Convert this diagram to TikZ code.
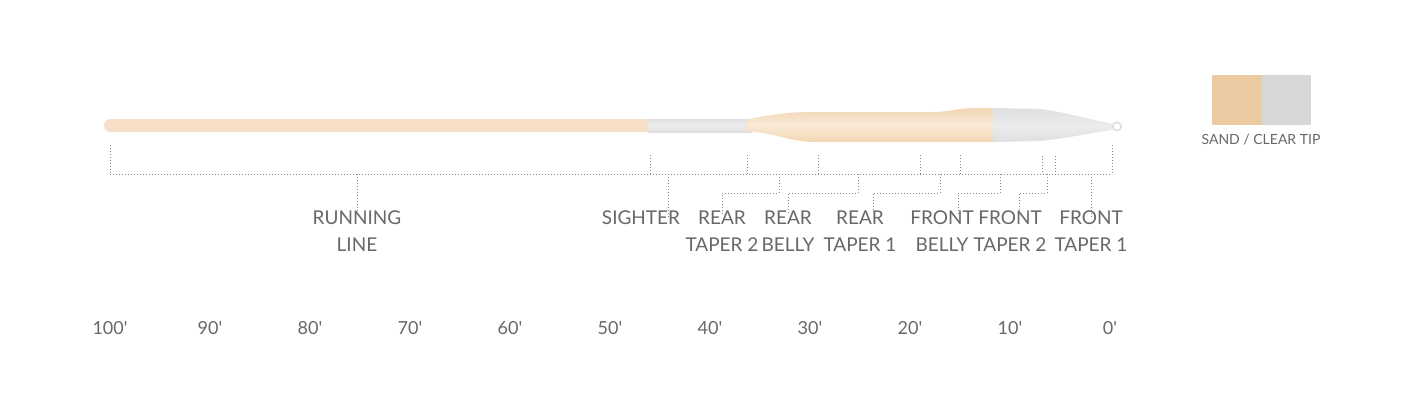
\documentclass[tikz,border=0pt]{standalone}
\usepackage{fontspec}
\setmainfont{Lato}[Ligatures=TeXOff]
\definecolor{sandA}{HTML}{F3D6B4}
\definecolor{sandB}{HTML}{F9E9D6}
\definecolor{sandRun}{HTML}{F6DFC6}
\definecolor{grayA}{HTML}{DFDFE1}
\definecolor{grayB}{HTML}{ECECED}
\definecolor{legSand}{HTML}{EBC9A1}
\definecolor{legGray}{HTML}{D6D7D9}
\definecolor{txt}{HTML}{686868}
\definecolor{dots}{HTML}{8C8C8C}
\begin{document}
\begin{tikzpicture}[x=1pt,y=-1pt,
  dotline/.style={draw=dots,line width=0.9pt,dash pattern=on 0.9pt off 2.1pt},
  lbl/.style={text=txt,font=\fontsize{19}{27}\selectfont,align=center,anchor=north,inner sep=0pt},
  num/.style={text=txt,font=\fontsize{18}{20}\selectfont,inner sep=0pt},
  leglbl/.style={text=txt,font=\fontsize{14}{16}\selectfont,inner sep=0pt}]
\useasboundingbox (0,0) rectangle (1420,412);
\fill[white] (0,0) rectangle (1420,412);

% ---- fly line body ----
\fill[sandRun,rounded corners=6.5pt] (104,119) rectangle (660,132);
\shade[top color=grayA,bottom color=grayA,middle color=grayB] (648,119) rectangle (752,132);
\shade[top color=sandA,bottom color=sandA,middle color=sandB]
  (746,119.5) .. controls (775,114) and (790,112) .. (815,112) -- (930,112)
  .. controls (950,112) and (955,108.5) .. (975,108) -- (994,108) -- (994,142)
  -- (815,142) .. controls (790,142) and (775,132.5) .. (746,131.5) -- cycle;
\shade[top color=grayA,bottom color=grayA,middle color=grayB]
  (993,108) -- (1040,109) .. controls (1070,113) and (1095,121) .. (1114,124)
  -- (1114,129.5) .. controls (1095,132) and (1070,138) .. (1040,141) -- (993,142) -- cycle;
\draw[draw=grayA,line width=1.6pt,fill=white] (1117,126.5) circle[radius=4.2];

% ---- tick coordinates ----
\coordinate (u0) at (110,145);  \coordinate (d0) at (110,174);
\coordinate (u1) at (650,155);  \coordinate (d1) at (650,174);
\coordinate (u2) at (747,155);  \coordinate (d2) at (747,174);
\coordinate (u3) at (818,155);  \coordinate (d3) at (818,174);
\coordinate (u4) at (920,155);  \coordinate (d4) at (920,174);
\coordinate (u5) at (960,155);  \coordinate (d5) at (960,174);
\coordinate (u6) at (1042,156); \coordinate (d6) at (1042,174);
\coordinate (u7) at (1055,156); \coordinate (d7) at (1055,174);
\coordinate (u8) at (1112,145); \coordinate (d8) at (1112,174);

\foreach \i in {0,...,8} {\draw[dotline] (u\i) -- (d\i);}
\draw[dotline] (d0) -- (d8);

% ---- labels ----
\node[lbl] (run) at (357,211) {RUNNING\\LINE};
\node[lbl] (sig) at (641,211) {SIGHTER};
\node[lbl] (rt2) at (722,211) {REAR\\TAPER 2};
\node[lbl] (rb)  at (788,211) {REAR\\BELLY};
\node[lbl] (rt1) at (860,211) {REAR\\TAPER 1};
\node[lbl] (fb)  at (942,211) {FRONT\\BELLY};
\node[lbl] (ft2) at (1010,211) {FRONT\\TAPER 2};
\node[lbl] (ft1) at (1091,211) {FRONT\\TAPER 1};

% ---- leader lines ----
\coordinate (lrun) at (357,174);
\coordinate (lsig) at (668,174);
\coordinate (lrt2) at (779,174); \coordinate (jrt2) at (722,193);
\coordinate (lrb)  at (858,174); \coordinate (jrb)  at (788,193);
\coordinate (lrt1) at (940,174); \coordinate (jrt1) at (873,193);
\coordinate (lfb)  at (1000,174); \coordinate (jfb) at (958,193);
\coordinate (lft2) at (1047,174); \coordinate (jft2) at (1019,193);
\coordinate (lft1) at (1091,174);

\draw[dotline] (lrun) -- (lrun |- run.north);
\draw[dotline] (lsig) -- ([yshift=-7pt]lsig |- sig.north);
\draw[dotline] (lrt2) |- (jrt2) -- ([yshift=-4pt]jrt2 |- rt2.north);
\draw[dotline] (lrb)  |- (jrb)  -- ([yshift=-4pt]jrb |- rb.north);
\draw[dotline] (lrt1) |- (jrt1) -- ([yshift=-4pt]jrt1 |- rt1.north);
\draw[dotline] (lfb)  |- (jfb)  -- ([yshift=-4pt]jfb |- fb.north);
\draw[dotline] (lft2) |- (jft2) -- ([yshift=-4pt]jft2 |- ft2.north);
\draw[dotline] (lft1) -- ([yshift=-6pt]lft1 |- ft1.north);

% ---- scale ----
\foreach \v [count=\k from 0] in {100,90,80,70,60,50,40,30,20,10,0} {
  \node[num] (n\v) at (110+100*\k,328) {\v'};
}

% ---- legend ----
\fill[legSand] (1212,75) rectangle (1262,125);
\fill[legGray] (1262,75) rectangle (1311,125);
\node[leglbl] (leg) at (1261,140) {SAND / CLEAR TIP};
\end{tikzpicture}
\end{document}
